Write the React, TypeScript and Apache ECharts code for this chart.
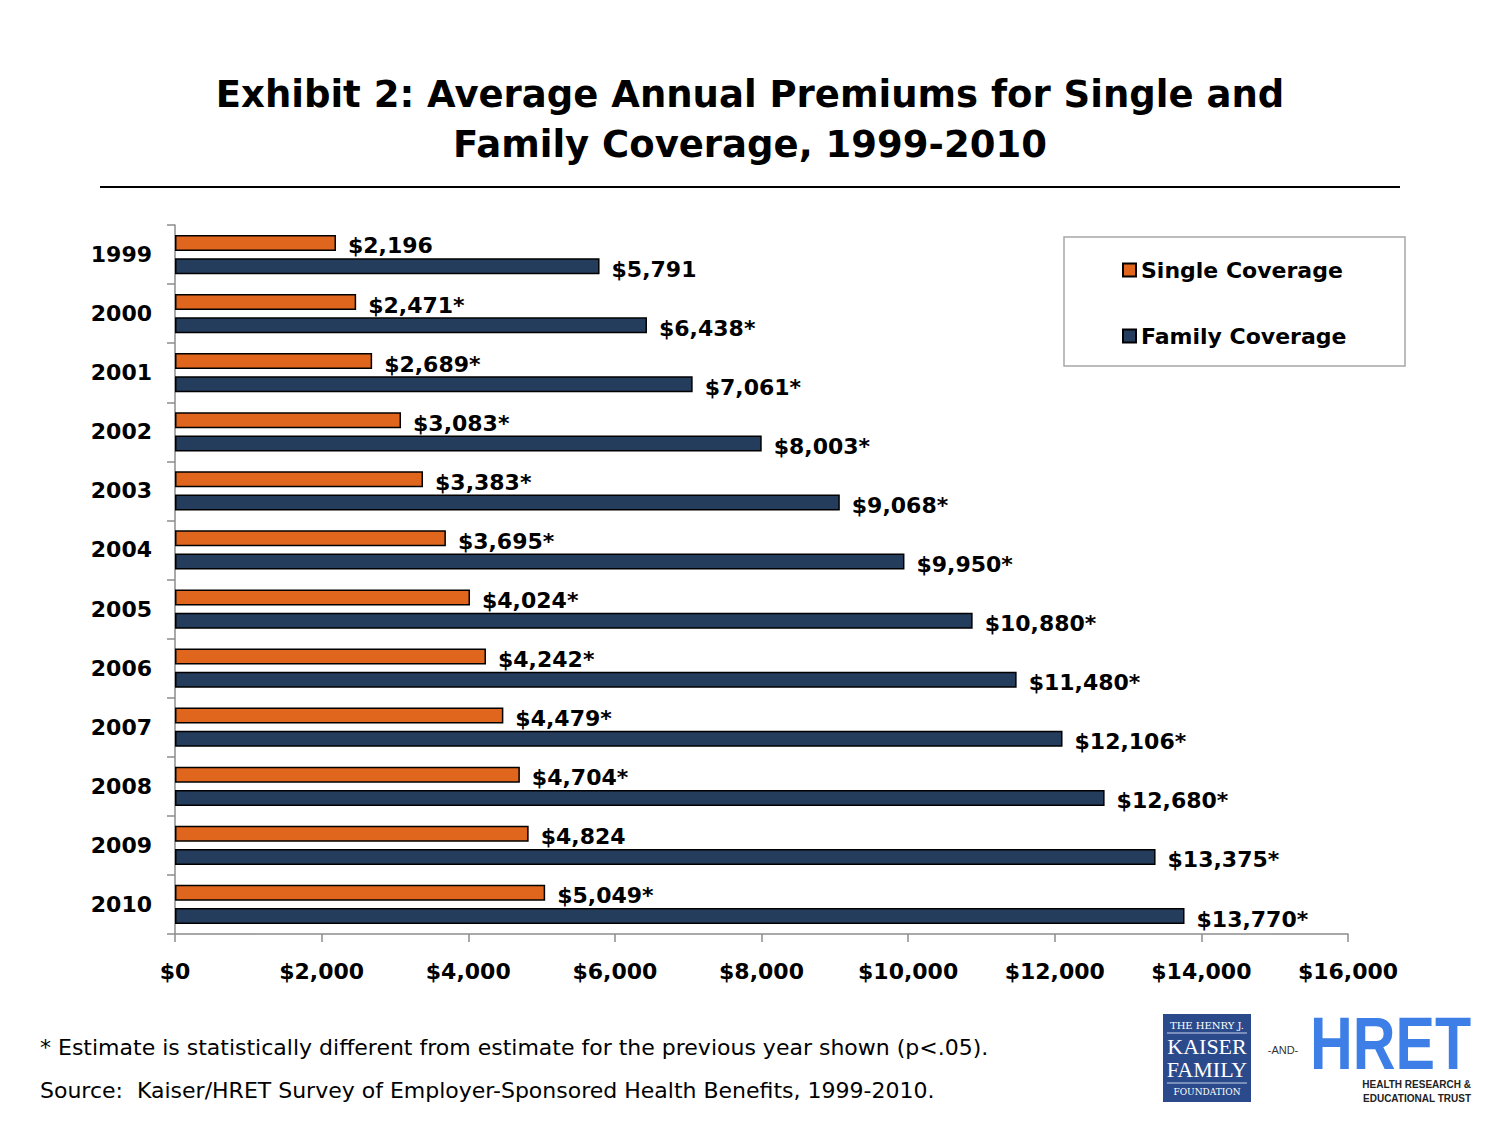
import { useEffect, useRef } from 'react';
import * as echarts from 'echarts';

// data
const years = ['1999', '2000', '2001', '2002', '2003', '2004', '2005', '2006', '2007', '2008', '2009', '2010'];
const singlePremiums = [2196, 2471, 2689, 3083, 3383, 3695, 4024, 4242, 4479, 4704, 4824, 5049];
const familyPremiums = [5791, 6438, 7061, 8003, 9068, 9950, 10880, 11480, 12106, 12680, 13375, 13770];
// significant change vs previous year (asterisk)
const singleSignificant = [false, true, true, true, true, true, true, true, true, true, false, true];
const familySignificant = [false, true, true, true, true, true, true, true, true, true, true, true];

const ORANGE = '#E0661E';
const NAVY = '#253D5D';
const FONT = '"DejaVu Sans", Verdana, sans-serif';

const money = (v: number) => '$' + v.toLocaleString('en-US');

const App = () => {
  const chartRef = useRef<HTMLDivElement>(null);

  useEffect(() => {
    document.body.style.margin = '0';
    if (!chartRef.current) return;
    const chart = echarts.init(chartRef.current, undefined, { renderer: 'svg' });

    const labelStyle = {
      show: true,
      position: 'right' as const,
      distance: 12,
      color: '#000',
      fontFamily: FONT,
      fontWeight: 'bold' as const,
      fontSize: 22
    };

    const option: echarts.EChartsOption = {
      animation: false,
      backgroundColor: '#fff',
      textStyle: { fontFamily: FONT },
      title: {
        text: 'Exhibit 2: Average Annual Premiums for Single and\nFamily Coverage, 1999-2010',
        left: 'center',
        top: 64,
        textStyle: {
          fontFamily: FONT,
          fontSize: 37,
          fontWeight: 'bold',
          lineHeight: 50,
          color: '#000'
        }
      },
      legend: {
        orient: 'vertical',
        left: 1117,
        top: 254,
        itemWidth: 13,
        itemHeight: 13,
        itemGap: 44,
        icon: 'rect',
        textStyle: {
          fontFamily: FONT,
          fontSize: 22,
          fontWeight: 'bold',
          color: '#000'
        },
        data: ['Single Coverage', 'Family Coverage']
      },
      grid: {
        left: 175,
        right: 152,
        top: 225,
        bottom: 191,
        containLabel: false
      },
      xAxis: {
        type: 'value',
        min: 0,
        max: 16000,
        interval: 2000,
        axisLine: { show: true, lineStyle: { color: '#8c8c8c', width: 1.5 } },
        axisTick: { show: true, length: 8, lineStyle: { color: '#8c8c8c', width: 1.5 } },
        splitLine: { show: false },
        axisLabel: {
          margin: 26,
          color: '#000',
          fontFamily: FONT,
          fontSize: 22,
          fontWeight: 'bold',
          formatter: (v: number) => money(v)
        }
      },
      yAxis: {
        type: 'category',
        inverse: true,
        data: years,
        axisLine: { show: true, lineStyle: { color: '#8c8c8c', width: 1.5 } },
        axisTick: { show: true, length: 8, lineStyle: { color: '#8c8c8c', width: 1.5 } },
        axisLabel: {
          margin: 23,
          color: '#000',
          fontFamily: FONT,
          fontSize: 22,
          fontWeight: 'bold'
        }
      },
      series: [
        {
          name: 'Single Coverage',
          type: 'bar',
          data: singlePremiums,
          barWidth: 16,
          barGap: '45%',
          itemStyle: { color: ORANGE, borderColor: '#000', borderWidth: 1.5 },
          label: {
            ...labelStyle,
            offset: [0, 3],
            formatter: (p: any) => money(p.value) + (singleSignificant[p.dataIndex] ? '*' : '')
          }
        },
        {
          name: 'Family Coverage',
          type: 'bar',
          data: familyPremiums,
          barWidth: 16,
          barGap: '45%',
          itemStyle: { color: NAVY, borderColor: '#000', borderWidth: 1.5 },
          label: {
            ...labelStyle,
            offset: [0, 3],
            formatter: (p: any) => money(p.value) + (familySignificant[p.dataIndex] ? '*' : '')
          }
        }
      ],
      graphic: {
        elements: [
          // rule under title
          {
            type: 'line',
            shape: { x1: 100, y1: 187, x2: 1400, y2: 187 },
            style: { stroke: '#000', lineWidth: 2 }
          },
          // legend box
          {
            type: 'rect',
            shape: { x: 1064, y: 237, width: 341, height: 129 },
            style: { fill: 'none', stroke: '#a6a6a6', lineWidth: 1.5 },
            z: -1
          },
          // footnotes
          {
            type: 'text',
            x: 40,
            y: 1047,
            style: {
              text: '* Estimate is statistically different from estimate for the previous year shown (p<.05).',
              font: '22px ' + FONT,
              fill: '#000',
              textVerticalAlign: 'middle'
            }
          },
          {
            type: 'text',
            x: 40,
            y: 1090,
            style: {
              text: 'Source:  Kaiser/HRET Survey of Employer-Sponsored Health Benefits, 1999-2010.',
              font: '22px ' + FONT,
              fill: '#000',
              textVerticalAlign: 'middle'
            }
          },
          // Kaiser logo
          {
            type: 'rect',
            shape: { x: 1163, y: 1014, width: 88, height: 88 },
            style: { fill: '#2B4A8C' }
          },
          {
            type: 'text',
            x: 1207,
            y: 1025,
            style: {
              text: 'THE HENRY J.',
              font: '10px "DejaVu Serif", serif',
              fill: '#fff',
              textAlign: 'center',
              textVerticalAlign: 'middle'
            }
          },
          {
            type: 'line',
            shape: { x1: 1167, y1: 1033, x2: 1247, y2: 1033 },
            style: { stroke: '#c9d3e8', lineWidth: 1 }
          },
          {
            type: 'text',
            x: 1207,
            y: 1046,
            style: {
              text: 'KAISER',
              font: '22px "Liberation Serif", serif',
              fill: '#fff',
              textAlign: 'center',
              textVerticalAlign: 'middle'
            }
          },
          {
            type: 'text',
            x: 1207,
            y: 1069,
            style: {
              text: 'FAMILY',
              font: '22px "Liberation Serif", serif',
              fill: '#fff',
              textAlign: 'center',
              textVerticalAlign: 'middle'
            }
          },
          {
            type: 'line',
            shape: { x1: 1167, y1: 1083, x2: 1247, y2: 1083 },
            style: { stroke: '#c9d3e8', lineWidth: 1 }
          },
          {
            type: 'text',
            x: 1207,
            y: 1092,
            style: {
              text: 'FOUNDATION',
              font: '9px "DejaVu Serif", serif',
              fill: '#fff',
              textAlign: 'center',
              textVerticalAlign: 'middle'
            }
          },
          {
            type: 'text',
            x: 1283,
            y: 1050,
            style: {
              text: '-AND-',
              font: '11px "Liberation Sans", sans-serif',
              fill: '#333',
              textAlign: 'center',
              textVerticalAlign: 'middle'
            }
          },
          // HRET logo
          {
            type: 'text',
            x: 1310,
            y: 1043,
            scaleX: 0.8,
            style: {
              text: 'HRET',
              font: 'bold 74px "Liberation Sans", Arial, sans-serif',
              fill: '#3D7FE6',
              textVerticalAlign: 'middle'
            }
          },
          {
            type: 'text',
            x: 1471,
            y: 1084,
            style: {
              text: 'HEALTH RESEARCH &',
              font: 'bold 10px "Liberation Sans", Arial, sans-serif',
              fill: '#222',
              textAlign: 'right',
              textVerticalAlign: 'middle'
            }
          },
          {
            type: 'text',
            x: 1471,
            y: 1098,
            style: {
              text: 'EDUCATIONAL TRUST',
              font: 'bold 10px "Liberation Sans", Arial, sans-serif',
              fill: '#222',
              textAlign: 'right',
              textVerticalAlign: 'middle'
            }
          }
        ]
      }
    };

    chart.setOption(option);
    return () => {
      chart.dispose();
    };
  }, []);

  return <div ref={chartRef} style={{ width: '1500px', height: '1125px' }} />;
};

export default App;
